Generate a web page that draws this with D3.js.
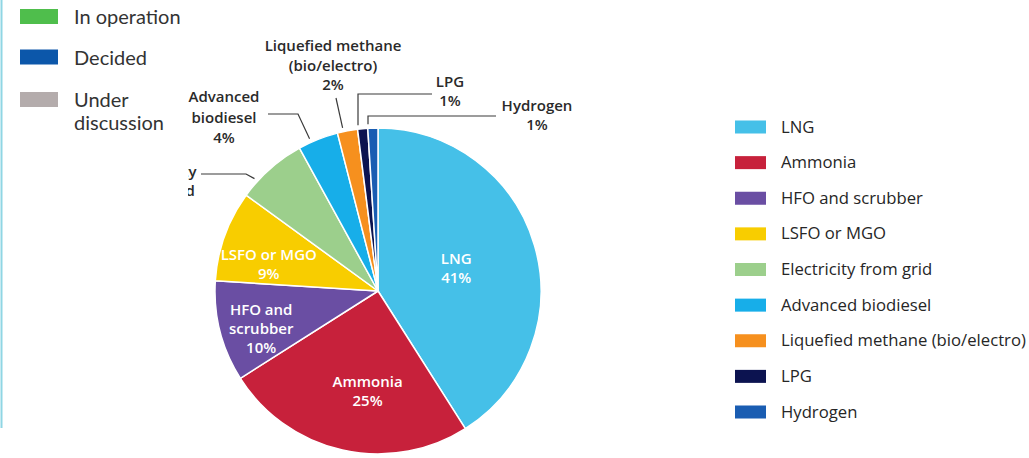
<!DOCTYPE html>
<html>
<head>
<meta charset="utf-8">
<script src="https://cdn.jsdelivr.net/npm/d3@7/dist/d3.min.js"></script>
<style>
  html, body { margin: 0; padding: 0; background: #fff; }
  svg { display: block; font-family: "Open Sans", Lato, sans-serif; }
</style>
</head>
<body>
<svg id="chart" width="1029" height="458"></svg>
<script>
// Fuel choices (share of vessels, %)
const fuels = ["LNG", "Ammonia", "HFO and scrubber", "LSFO or MGO", "Electricity from grid",
               "Advanced biodiesel", "Liquefied methane (bio/electro)", "LPG", "Hydrogen"];
const shares = [41, 25, 10, 9, 7, 4, 2, 1, 1];
const fuelColors = ["#45c0e8", "#c7213b", "#6a4ea3", "#f8cd00", "#9ccf8c",
                    "#17aee9", "#f6901e", "#0c1350", "#1a5db2"];

// Status legend
const statusLabels = [["In operation"], ["Decided"], ["Under", "discussion"]];
const statusColors = ["#4fbe4c", "#0c57aa", "#b4acac"];

// Label text lines drawn on or beside each slice
const sliceLabels = [
  ["LNG", "41%"], ["Ammonia", "25%"], ["HFO and", "scrubber", "10%"], ["LSFO or MGO", "9%"],
  ["Electricity", "from grid", "7%"], ["Advanced", "biodiesel", "4%"],
  ["Liquefied methane", "(bio/electro)", "2%"], ["LPG", "1%"], ["Hydrogen", "1%"]
];

const svg = d3.select("#chart");
const cx = 378, cy = 291, radius = 163;

const data = fuels.map((f, i) => ({ name: f, value: shares[i], color: fuelColors[i], lines: sliceLabels[i] }));

const pie = d3.pie().value(d => d.value).sort(null);
const arcs = pie(data);
const arc = d3.arc().innerRadius(0).outerRadius(radius);

const g = svg.append("g").attr("transform", `translate(${cx},${cy})`);

g.selectAll("path.slice")
  .data(arcs)
  .join("path")
  .attr("class", "slice")
  .attr("d", arc)
  .attr("fill", d => d.data.color)
  .attr("stroke", "#fff")
  .attr("stroke-width", 1.5)
  .attr("stroke-linejoin", "round");

// Labels placed inside the larger slices
const inside = {
  "LNG": { r: 0.5, dy: 0 },
  "Ammonia": { r: 0.66, dy: -4, dx: 13 },
  "HFO and scrubber": { r: 0.74, dy: 8 },
  "LSFO or MGO": { r: 0.66, dy: 10, dx: -8 }
};
const lineH = 19;
arcs.filter(d => inside[d.data.name]).forEach(d => {
  const o = inside[d.data.name];
  const c = d3.arc().innerRadius(radius * o.r).outerRadius(radius * o.r).centroid(d);
  const n = d.data.lines.length;
  const t = g.append("text")
    .attr("text-anchor", "middle")
    .attr("fill", "#fff")
    .attr("font-size", 15)
    .attr("font-weight", 600);
  d.data.lines.forEach((ln, i) => {
    t.append("tspan")
      .attr("x", c[0] + (o.dx || 0))
      .attr("y", c[1] + (o.dy || 0) + (i - (n - 1) / 2) * lineH + 5)
      .text(ln);
  });
});

// Callout labels for the small slices: label centre, elbow of the leader line,
// and where along the slice edge the leader meets it
const callouts = {
  "Electricity from grid": { lx: 161, ly: 177, line: [[201, 174], [246, 174]], lh: 19, frac: 0.25 },
  "Advanced biodiesel": { lx: 224, ly: 102, line: [[268, 114], [298, 114]], lh: 20.5, frac: 0.32 },
  "Liquefied methane (bio/electro)": { lx: 333, ly: 51, line: [[336, 98]], lh: 19.5, frac: 0.3 },
  "LPG": { lx: 450, ly: 87, line: [[432, 94], [358, 94]], lh: 18.5, vertical: true },
  "Hydrogen": { lx: 537, ly: 111, line: [[496, 116], [368, 116]], lh: 18.5, vertical: true }
};

const outer = svg.append("g");
arcs.filter(d => callouts[d.data.name]).forEach(d => {
  const o = callouts[d.data.name];
  const R = radius + 4;
  const pts = o.line.map(p => p.slice());
  let anchor;
  if (o.vertical) {
    // thin slices at the top take a straight drop onto the rim
    const x = pts[pts.length - 1][0];
    anchor = [x, cy - Math.sqrt(R * R - Math.pow(x - cx, 2))];
  } else {
    const a = d.startAngle + (d.endAngle - d.startAngle) * o.frac;
    anchor = [cx + R * Math.sin(a), cy - R * Math.cos(a)];
  }
  pts.push(anchor);
  outer.append("path")
    .attr("d", d3.line()(pts))
    .attr("fill", "none")
    .attr("stroke", "#3a3a3a")
    .attr("stroke-width", 1.2);
  const t = outer.append("text")
    .attr("text-anchor", "middle")
    .attr("fill", "#2a2a2a")
    .attr("font-size", 15)
    .attr("font-weight", 600);
  d.data.lines.forEach((ln, i) => {
    t.append("tspan").attr("x", o.lx).attr("y", o.ly + i * o.lh).text(ln);
  });
});

// Status legend panel on the left
svg.append("rect").attr("x", 0).attr("y", 0).attr("width", 188).attr("height", 458).attr("fill", "#fff");
svg.append("line").attr("x1", 1.5).attr("x2", 1.5).attr("y1", 0).attr("y2", 428)
  .attr("stroke", "#8fd6e4").attr("stroke-width", 2);

const statusY = [16.5, 57, 99.5];
const sl = svg.append("g");
statusLabels.forEach((lines, i) => {
  sl.append("rect").attr("x", 20).attr("y", statusY[i] - 7.5).attr("width", 38).attr("height", 15)
    .attr("fill", statusColors[i]);
  const t = sl.append("text").attr("fill", "#333").attr("font-size", 20)
    .attr("font-family", "Lato, sans-serif");
  lines.forEach((ln, j) => {
    t.append("tspan").attr("x", 74).attr("y", statusY[i] + 7.5 + j * 23).text(ln);
  });
});

// Fuel legend on the right
const fl = svg.append("g");
const legendY = d3.scalePoint().domain(fuels).range([127, 412]);
fuels.forEach((f, i) => {
  const y = legendY(f);
  fl.append("rect").attr("x", 735).attr("y", y - 6.5).attr("width", 31).attr("height", 13)
    .attr("fill", fuelColors[i]);
  fl.append("text").attr("x", 781).attr("y", y + 5.5).attr("fill", "#262626")
    .attr("font-size", 16.7).text(f);
});
</script>
</body>
</html>
